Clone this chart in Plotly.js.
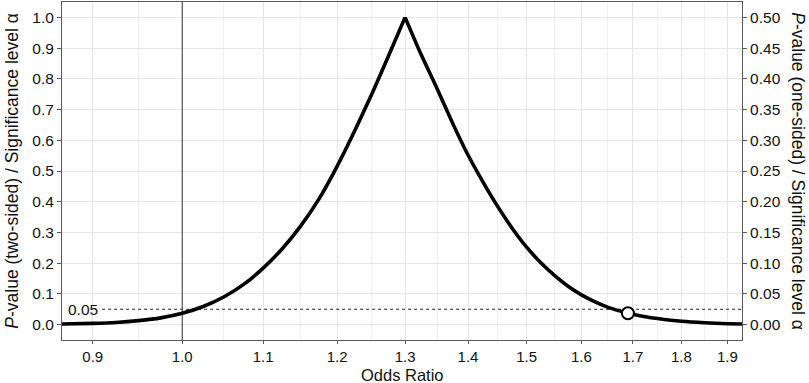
<!DOCTYPE html>
<html><head><meta charset="utf-8">
<script src="https://cdn.plot.ly/plotly-3.0.1.min.js"></script>
<style>html,body{margin:0;padding:0;background:#fff}#chart{width:809px;height:383px}</style>
</head><body><div id="chart"></div>
<script>
// Odds ratio values and two-sided p-values
const oddsRatio = [0.868,0.90,0.925,0.95,0.975,1.00,1.025,1.05,1.075,1.10,1.125,1.15,1.175,1.20,1.225,1.25,1.275,1.30,1.325,1.35,1.375,1.40,1.425,1.45,1.475,1.50,1.525,1.55,1.575,1.60,1.625,1.65,1.675,1.69,1.725,1.75,1.80,1.85,1.90,1.933];
const pValue = [0.002,0.004,0.007,0.013,0.022,0.037,0.059,0.090,0.131,0.184,0.247,0.322,0.410,0.515,0.630,0.750,0.875,1.000,0.878,0.768,0.655,0.552,0.464,0.384,0.313,0.252,0.202,0.160,0.125,0.097,0.075,0.057,0.044,0.037,0.026,0.020,0.011,0.006,0.003,0.002];
const pointEstimate = 1.3;
const counterNull = [1.69];
const counterNullP = [0.037];
const alphaLevel = 0.05;
const nullValue = 1.0;
const xTicks = [0.9,1.0,1.1,1.2,1.3,1.4,1.5,1.6,1.7,1.8,1.9];
const xTickText = ["0.9","1.0","1.1","1.2","1.3","1.4","1.5","1.6","1.7","1.8","1.9"];
const xMinor = [0.95,1.05,1.15,1.25,1.35,1.45,1.55,1.65,1.75,1.85];
const yTicks = [0,0.1,0.2,0.3,0.4,0.5,0.6,0.7,0.8,0.9,1.0];
const y2Ticks = [0,0.05,0.1,0.15,0.2,0.25,0.3,0.35,0.4,0.45,0.5];

const xMin = 0.868, xMax = 1.933;
const FONT = "Liberation Sans, Arial, sans-serif";
const tc = "#111";

const peak = oddsRatio.indexOf(pointEstimate);
const curveLine = {color:"#000", width:3.6, shape:"spline", smoothing:0.6};

const traces = [
  {x:[0.91, xMax], y:[alphaLevel, alphaLevel], mode:"lines", line:{color:"#222", width:1, dash:"3px,3px"}, hoverinfo:"skip", showlegend:false},
  {x:[nullValue, nullValue], y:[-0.05, 1.05], mode:"lines", line:{color:"#333", width:1}, hoverinfo:"skip", showlegend:false},
  {x:oddsRatio.slice(0, peak+1), y:pValue.slice(0, peak+1), mode:"lines", line:curveLine, showlegend:false},
  {x:oddsRatio.slice(peak), y:pValue.slice(peak), mode:"lines", line:curveLine, showlegend:false},
  {x:counterNull, y:counterNullP, mode:"markers", marker:{size:12, color:"#fff", line:{color:"#000", width:2}}, showlegend:false},
  {x:[pointEstimate], y:[0], yaxis:"y2", mode:"markers", marker:{opacity:0}, hoverinfo:"skip", showlegend:false}
];

const layout = {
  width:809, height:383,
  margin:{l:62, r:67, t:2, b:43},
  paper_bgcolor:"#fff", plot_bgcolor:"#fff",
  font:{family:FONT, color:tc, size:16},
  xaxis:{type:"log", range:[Math.log10(xMin), Math.log10(xMax)], tickmode:"array", tickvals:xTicks, ticktext:xTickText,
    showgrid:true, gridcolor:"#e6e6e6", gridwidth:1, zeroline:false,
    minor:{tickmode:"array", tickvals:xMinor, showgrid:true, gridcolor:"#efefef", gridwidth:1, ticks:""},
    showline:true, linecolor:"#5a5a5a", linewidth:1, mirror:true,
    ticks:"outside", ticklen:3, tickcolor:"#5a5a5a", tickfont:{size:15, color:tc}},
  yaxis:{range:[-0.05,1.05], tickmode:"array", tickvals:yTicks, tickformat:".1f",
    showgrid:true, gridcolor:"#e6e6e6", gridwidth:1, zeroline:false,
    showline:true, linecolor:"#5a5a5a", linewidth:1, mirror:true,
    ticks:"outside", ticklen:4, tickcolor:"#5a5a5a", tickfont:{size:15.5, color:tc}},
  yaxis2:{overlaying:"y", side:"right", range:[-0.025,0.525], tickmode:"array", tickvals:y2Ticks, tickformat:".2f",
    showgrid:false, zeroline:false, showline:false,
    ticks:"outside", ticklen:4, tickcolor:"#5a5a5a", tickfont:{size:15.5, color:tc}},
  annotations:[
    {xref:"paper", yref:"y", x:0.006, y:alphaLevel, xanchor:"left", yanchor:"middle", text:"0.05", showarrow:false, font:{size:15.5, color:tc}},
    {xref:"paper", yref:"paper", x:0.5, y:-0.104, xanchor:"center", yanchor:"middle", showarrow:false,
     text:"Odds Ratio", font:{size:16.5, color:tc}},
    {xref:"paper", yref:"paper", x:-0.074, y:0.5, xanchor:"center", yanchor:"middle", textangle:-90, showarrow:false,
     text:"<i>P</i>-value (two-sided) / Significance level α", font:{size:17.5, color:tc}},
    {xref:"paper", yref:"paper", x:1.082, y:0.5, xanchor:"center", yanchor:"middle", textangle:90, showarrow:false,
     text:"<i>P</i>-value (one-sided) / Significance level α", font:{size:17.5, color:tc}}
  ]
};

Plotly.newPlot("chart", traces, layout, {displayModeBar:false, staticPlot:true});
</script></body></html>
